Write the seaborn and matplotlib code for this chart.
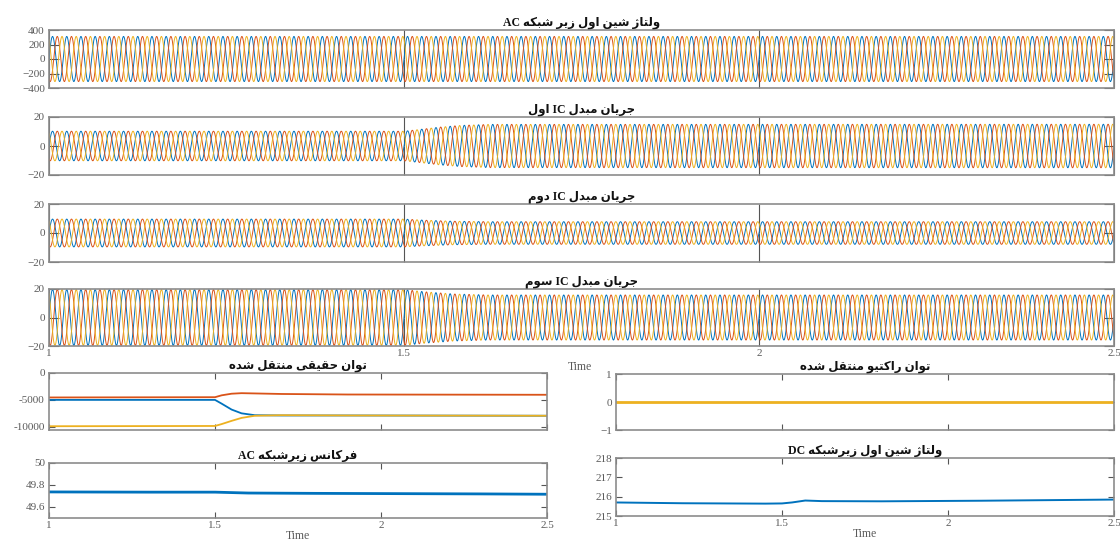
import numpy as np
import pandas as pd
import matplotlib
matplotlib.use("Agg")
import matplotlib.pyplot as plt
import seaborn as sns

# ---------------- data ----------------
x_ticks = [1, 1.5, 2, 2.5]
x_tick_labels = ["1", "1.5", "2", "2.5"]

grid_freq = 50.0                       # Hz
phase_names = ["a", "b", "c"]
phase_shift_deg = [0, -120, 120]
phase_colors = ["#0072BD", "#D95319", "#EDB120"]

# amplitude envelope keypoints (time, peak value)
v_env_t = [1.0, 2.5]
v_env_a = [311, 311]
ic1_env_t = [1.0, 1.5, 1.52, 1.55, 1.58, 1.62, 2.5]
ic1_env_a = [10.2, 10.2, 11.3, 13.0, 14.2, 14.9, 15.0]
ic2_env_t = [1.0, 1.5, 1.53, 1.57, 1.62, 2.5]
ic2_env_a = [9.6, 9.6, 8.8, 8.1, 7.8, 7.8]
ic3_env_t = [1.0, 1.5, 1.53, 1.57, 1.62, 2.5]
ic3_env_a = [19.6, 19.6, 18.0, 16.5, 15.8, 15.8]

# transferred real power (three converters)
p_t = [1.0, 1.5, 1.52, 1.55, 1.58, 1.62, 1.7, 1.9, 2.5]
p_ic1 = [-5000, -5000, -5700, -6800, -7500, -7850, -7900, -7900, -7950]
p_ic2 = [-4550, -4500, -4150, -3850, -3750, -3800, -3900, -4000, -4050]
p_ic3 = [-9900, -9850, -9500, -8900, -8350, -7950, -7850, -7900, -7950]

# reactive power
q_t = [1.0, 2.5]
q_val = [0.0, 0.0]

# AC sub-grid frequency
f_t = [1.0, 1.3, 1.5, 1.6, 1.8, 2.0, 2.3, 2.5]
f_val = [49.737, 49.735, 49.735, 49.727, 49.724, 49.722, 49.719, 49.716]

# DC sub-grid bus voltage
dc_t = [1.0, 1.2, 1.45, 1.5, 1.53, 1.57, 1.62, 1.8, 2.1, 2.5]
dc_val = [215.70, 215.66, 215.64, 215.65, 215.70, 215.80, 215.77, 215.76, 215.79, 215.85]

titles = [
    "ولتاژ شین اول زیر شبکه AC",
    "جریان مبدل IC اول",
    "جریان مبدل IC دوم",
    "جریان مبدل IC سوم",
    "توان حقیقی منتقل شده",
    "فرکانس زیرشبکه AC",
    "توان راکتیو منتقل شده",
    "ولتاژ شین اول زیرشبکه DC",
]

# ---------------- minimal Persian shaping + RTL ordering ----------------
FORMS = {
    "\u0627": (0xFE8D, 0xFE8E, None, None),
    "\u0628": (0xFE8F, 0xFE90, 0xFE91, 0xFE92),
    "\u062A": (0xFE95, 0xFE96, 0xFE97, 0xFE98),
    "\u062C": (0xFE9D, 0xFE9E, 0xFE9F, 0xFEA0),
    "\u062D": (0xFEA1, 0xFEA2, 0xFEA3, 0xFEA4),
    "\u062F": (0xFEA9, 0xFEAA, None, None),
    "\u0631": (0xFEAD, 0xFEAE, None, None),
    "\u0632": (0xFEAF, 0xFEB0, None, None),
    "\u0698": (0xFB8A, 0xFB8B, None, None),
    "\u0633": (0xFEB1, 0xFEB2, 0xFEB3, 0xFEB4),
    "\u0634": (0xFEB5, 0xFEB6, 0xFEB7, 0xFEB8),
    "\u0641": (0xFED1, 0xFED2, 0xFED3, 0xFED4),
    "\u0642": (0xFED5, 0xFED6, 0xFED7, 0xFED8),
    "\u06A9": (0xFB8E, 0xFB8F, 0xFB90, 0xFB91),
    "\u0644": (0xFEDD, 0xFEDE, 0xFEDF, 0xFEE0),
    "\u0645": (0xFEE1, 0xFEE2, 0xFEE3, 0xFEE4),
    "\u0646": (0xFEE5, 0xFEE6, 0xFEE7, 0xFEE8),
    "\u0647": (0xFEE9, 0xFEEA, 0xFEEB, 0xFEEC),
    "\u0648": (0xFEED, 0xFEEE, None, None),
    "\u06CC": (0xFBFC, 0xFBFD, 0xFBFE, 0xFBFF),
}


def shape_word(w):
    w = w.replace("\u064A", "\u06CC").replace("\u0643", "\u06A9")
    out = []
    for i, ch in enumerate(w):
        if ch not in FORMS:
            out.append(ch)
            continue
        iso, fin, ini, med = FORMS[ch]
        prev_j = i > 0 and w[i - 1] in FORMS and FORMS[w[i - 1]][2] is not None
        next_j = ini is not None and i + 1 < len(w) and w[i + 1] in FORMS
        if prev_j and next_j:
            cp = med
        elif prev_j:
            cp = fin
        elif next_j:
            cp = ini
        else:
            cp = iso
        out.append(chr(cp))
    return "".join(reversed(out))


def rtl(s):
    toks = s.split(" ")
    vis = []
    for tok in reversed(toks):
        if any(c in FORMS or c in "\u064A\u0643" for c in tok):
            vis.append(shape_word(tok))
        else:
            vis.append(tok)
    return " ".join(vis)


# ---------------- build data frames ----------------
t = np.linspace(1.0, 2.5, 6001)


def three_phase(env_t, env_a):
    amp = np.interp(t, env_t, env_a)
    rows = []
    for name, sh in zip(phase_names, phase_shift_deg):
        y = amp * np.sin(2 * np.pi * grid_freq * t + np.deg2rad(sh))
        rows.append(pd.DataFrame({"t": t, "y": y, "phase": name}))
    return pd.concat(rows, ignore_index=True)


df_v = three_phase(v_env_t, v_env_a)
df_i1 = three_phase(ic1_env_t, ic1_env_a)
df_i2 = three_phase(ic2_env_t, ic2_env_a)
df_i3 = three_phase(ic3_env_t, ic3_env_a)

df_p = pd.concat([
    pd.DataFrame({"t": p_t, "y": p_ic1, "phase": "a"}),
    pd.DataFrame({"t": p_t, "y": p_ic2, "phase": "b"}),
    pd.DataFrame({"t": p_t, "y": p_ic3, "phase": "c"}),
], ignore_index=True)
df_q = pd.DataFrame({"t": q_t, "y": q_val})
df_f = pd.DataFrame({"t": f_t, "y": f_val})
df_dc = pd.DataFrame({"t": dc_t, "y": dc_val})

# ---------------- figure ----------------
sns.set_style("white")
plt.rcParams["font.family"] = ["Liberation Serif", "DejaVu Sans"]
plt.rcParams["axes.linewidth"] = 1.2

W, H = 1120, 543
fig = plt.figure(figsize=(W / 100, H / 100), dpi=100)


def pos(l, tp, r, b):
    return [l / W, 1 - b / H, (r - l) / W, (b - tp) / H]


palette = dict(zip(phase_names, phase_colors))
SPINE = "#8c8c8c"
TICKC = "#555555"
LABC = "#5a5a5a"
TITLE_FAMILY = ["Liberation Serif", "DejaVu Sans"]


def style(ax, ylim, yticks, ylabels, xlen, ylen, show_x):
    ax.set_xlim(1, 2.5)
    ax.set_ylim(*ylim)
    ax.set_xticks(x_ticks)
    ax.set_xticklabels(x_tick_labels if show_x else [])
    ax.set_yticks(yticks)
    ax.set_yticklabels(ylabels)
    ax.set_xlabel("")
    ax.set_ylabel("")
    for s in ax.spines.values():
        s.set_color(SPINE)
        s.set_linewidth(1.2)
        s.set_visible(True)
    ax.tick_params(axis="x", direction="in", top=True, bottom=True, length=xlen,
                   width=0.8, color=TICKC, labelsize=8, labelcolor=LABC, pad=2)
    ax.tick_params(axis="y", direction="in", left=True, right=True, length=ylen,
                   width=0.8, color=TICKC, labelsize=8, labelcolor=LABC, pad=3)
    for lab in ax.get_xticklabels() + ax.get_yticklabels():
        lab.set_family("Liberation Serif")
    leg = ax.get_legend()
    if leg is not None:
        leg.remove()


def title(ax, txt, pad=3):
    ax.set_title(rtl(txt), fontsize=8.5, fontweight="bold", family=TITLE_FAMILY,
                 color="#111111", pad=pad)


top_pos = [pos(49, 30, 1114, 88), pos(49, 117, 1114, 175),
           pos(49, 204, 1114, 262), pos(49, 289, 1114, 346)]
top_data = [df_v, df_i1, df_i2, df_i3]
top_ylim = [(-400, 400), (-20, 20), (-20, 20), (-20, 20)]
top_yt = [[-400, -200, 0, 200, 400], [-20, 0, 20], [-20, 0, 20], [-20, 0, 20]]
top_yl = [["\u2212400", "\u2212200", "0", "200", "400"],
          ["\u221220", "0", "20"], ["\u221220", "0", "20"], ["\u221220", "0", "20"]]

for k in range(4):
    ax = fig.add_axes(top_pos[k])
    sns.lineplot(data=top_data[k], x="t", y="y", hue="phase", palette=palette,
                 estimator=None, sort=False, linewidth=0.7, ax=ax)
    half_len = (top_pos[k][3] * H) * 0.72 / 2
    style(ax, top_ylim[k], top_yt[k], top_yl[k], half_len, 7, k == 3)
    title(ax, titles[k])

# bottom-left: real power
ax = fig.add_axes(pos(49, 373, 547, 430))
sns.lineplot(data=df_p, x="t", y="y", hue="phase", palette=palette,
             estimator=None, sort=False, linewidth=1.3, ax=ax)
style(ax, (-10600, 0), [-10000, -5000, 0], ["-10000", "-5000", "0"], 4, 4, False)
title(ax, titles[4])

# bottom-left: frequency
ax = fig.add_axes(pos(49, 463, 547, 518))
sns.lineplot(data=df_f, x="t", y="y", color=phase_colors[0], linewidth=2.0,
             estimator=None, sort=False, ax=ax)
style(ax, (49.5, 50.0), [49.6, 49.8, 50.0], ["49.6", "49.8", "50"], 4, 4, True)
title(ax, titles[5])
ax.set_xlabel("Time", fontsize=8.5, color=LABC, labelpad=0, family="Liberation Serif")

# bottom-right: reactive power
ax = fig.add_axes(pos(616, 374, 1114, 430))
sns.lineplot(data=df_q, x="t", y="y", color=phase_colors[2], linewidth=2.0,
             estimator=None, sort=False, ax=ax)
style(ax, (-1, 1), [-1, 0, 1], ["\u22121", "0", "1"], 4, 4, False)
title(ax, titles[6])

# bottom-right: DC voltage
ax = fig.add_axes(pos(616, 458, 1114, 516))
sns.lineplot(data=df_dc, x="t", y="y", color=phase_colors[0], linewidth=1.4,
             estimator=None, sort=False, ax=ax)
style(ax, (215, 218), [215, 216, 217, 218], ["215", "216", "217", "218"], 4, 4, True)
title(ax, titles[7])
ax.set_xlabel("Time", fontsize=8.5, color=LABC, labelpad=0, family="Liberation Serif")

# stray "Time" label of the upper stack
fig.text(580 / W, 1 - 367 / H, "Time", fontsize=8.5, color=LABC,
         family="Liberation Serif", ha="center", va="center")

fig.savefig("out.png", dpi=100, facecolor="white")
